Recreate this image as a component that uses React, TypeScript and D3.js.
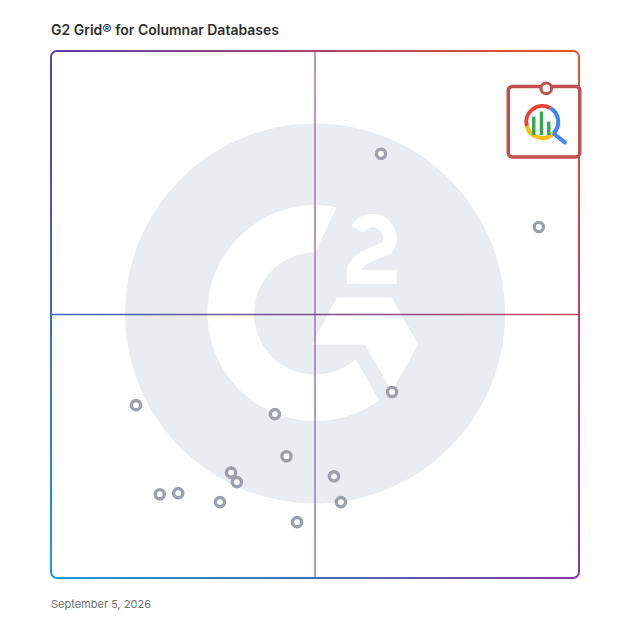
import React from "react";
import * as d3 from "d3";

// Satisfaction (x) and Market Presence (y) scores, 0-100
const satisfaction = [62.5, 92.4, 64.6, 16.1, 42.4, 44.6, 34.1, 35.2, 53.6, 20.6, 24.1, 32.0, 54.9, 46.6];
const marketPresence = [80.5, 66.6, 35.3, 32.8, 31.1, 23.1, 20.0, 18.2, 19.3, 15.9, 16.1, 14.4, 14.4, 10.6];
const highlightX = [93.8];
const highlightY = [92.9];
const title = "G2 Grid® for Columnar Databases";
const dateLabel = "September 5, 2026";

const W = 628;
const H = 628;

export default function App() {
  const x = d3.scaleLinear().domain([0, 100]).range([51, 579]);
  const y = d3.scaleLinear().domain([0, 100]).range([578, 51]);
  const x0 = x(0), x1 = x(100), y0 = y(100), y1 = y(0);
  const cx = x(50), cy = y(50);
  const r = 6;

  // Background G2 logo geometry (relative to center)
  const lc = { x: cx, y: cy - 1 };
  const oR = 108, iR = 61;
  const p = (dx: number, dy: number) => `${(lc.x + dx).toFixed(2)},${(lc.y + dy).toFixed(2)}`;
  const oTop = p(21.7, -106.3);
  const oBot = p(64.2, 86.8);
  const iBot = p(40.7, 45.5);
  const iTop = p(0, -61);
  const cPath = `M${oTop} A${oR},${oR} 0 1 0 ${oBot} L${iBot} A${iR},${iR} 0 1 1 ${iTop} Z`;
  const chevron = `M${p(21.7, -16)} L${p(76.7, -16)} L${p(103.3, 31)} L${p(76.7, 77.7)} L${p(50, 31)} L${p(-3.3, 31)} Z`;
  const tc = { x: lc.x + 57.5, y: lc.y - 75.5 };
  const tr = 17.5;
  const a0 = (210 * Math.PI) / 180;
  const a1 = (33 * Math.PI) / 180;
  const twoPath = `M${(tc.x + tr * Math.cos(a0)).toFixed(2)},${(tc.y + tr * Math.sin(a0)).toFixed(2)} A${tr},${tr} 0 1 1 ${(tc.x + tr * Math.cos(a1)).toFixed(2)},${(tc.y + tr * Math.sin(a1)).toFixed(2)} C ${tc.x + 6},${tc.y + 15} ${tc.x - 14},${tc.y + 18} ${tc.x - 19},${tc.y + 32} L${tc.x - 19},${tc.y + 39} L${tc.x + 24.2},${tc.y + 39}`;

  // Highlighted product marker
  const hx = x(highlightX[0]);
  const hy = y(highlightY[0]);
  const boxL = hx - 38, boxT = hy - 2, boxW = 71.5, boxH = 70.5;
  const mc = { x: hx - 4, y: hy + 33.5 };
  const mr = 16;
  const arc = (s: number, e: number) => {
    const sa = (s * Math.PI) / 180, ea = (e * Math.PI) / 180;
    const large = e - s > 180 ? 1 : 0;
    return `M${mc.x + mr * Math.cos(sa)},${mc.y + mr * Math.sin(sa)} A${mr},${mr} 0 ${large} 1 ${mc.x + mr * Math.cos(ea)},${mc.y + mr * Math.sin(ea)}`;
  };
  const barBase = mc.y + 13;
  const bars = [
    { dx: -8.5, h: 18.3 },
    { dx: -0.8, h: 23.3 },
    { dx: 6.5, h: 13.3 },
  ];

  const TL = "#5a3fa8", TR = "#f0502c", BL = "#1c9ad7", BR = "#7f3a9e";

  return (
    <svg width={W} height={H} style={{ position: "absolute", left: 0, top: 0, background: "#fff" }}
      fontFamily="Inter, 'Noto Sans', sans-serif">
      <defs>
        <linearGradient id="gTop" gradientUnits="userSpaceOnUse" x1={x0} y1={0} x2={x1} y2={0}>
          <stop offset="0" stopColor={TL} /><stop offset="1" stopColor={TR} />
        </linearGradient>
        <linearGradient id="gBot" gradientUnits="userSpaceOnUse" x1={x0} y1={0} x2={x1} y2={0}>
          <stop offset="0" stopColor={BL} /><stop offset="1" stopColor={BR} />
        </linearGradient>
        <linearGradient id="gLeft" gradientUnits="userSpaceOnUse" x1={0} y1={y0} x2={0} y2={y1}>
          <stop offset="0" stopColor={TL} /><stop offset="1" stopColor={BL} />
        </linearGradient>
        <linearGradient id="gRight" gradientUnits="userSpaceOnUse" x1={0} y1={y0} x2={0} y2={y1}>
          <stop offset="0" stopColor={TR} /><stop offset="1" stopColor={BR} />
        </linearGradient>
        <linearGradient id="gV" gradientUnits="userSpaceOnUse" x1={0} y1={y0} x2={0} y2={y1}>
          <stop offset="0" stopColor="#b0709e" /><stop offset="1" stopColor="#8a7cc6" />
        </linearGradient>
        <linearGradient id="gH" gradientUnits="userSpaceOnUse" x1={x0} y1={0} x2={x1} y2={0}>
          <stop offset="0" stopColor="#3d64b8" /><stop offset="0.5" stopColor="#7a4e8c" /><stop offset="1" stopColor="#c84a5e" />
        </linearGradient>
      </defs>

      <text x={51} y={35} fontSize={14} fontWeight={600} fill="#2f2f2f">{title}</text>

      {/* background logo */}
      <circle cx={lc.x} cy={lc.y} r={190} fill="#e9ecf0" />
      <path d={cPath} fill="#fff" />
      <path d={chevron} fill="#fff" />
      <path d={twoPath} fill="none" stroke="#fff" strokeWidth={13.5} strokeLinejoin="miter" />

      {/* quadrant lines */}
      <line x1={cx} x2={cx} y1={y0} y2={y1} stroke="url(#gV)" strokeWidth={1.5} />
      <line x1={x0} x2={x1} y1={cy} y2={cy} stroke="url(#gH)" strokeWidth={1.5} />

      {/* frame */}
      <g fill="none" strokeWidth={2}>
        <path d={`M${x0},${y0 + r} A${r},${r} 0 0 1 ${x0 + r},${y0} L${x1 - r},${y0} A${r},${r} 0 0 1 ${x1},${y0 + r}`} stroke="url(#gTop)" />
        <path d={`M${x1},${y0 + r} L${x1},${y1 - r}`} stroke="url(#gRight)" />
        <path d={`M${x1},${y1 - r} A${r},${r} 0 0 1 ${x1 - r},${y1} L${x0 + r},${y1} A${r},${r} 0 0 1 ${x0},${y1 - r}`} stroke="url(#gBot)" />
        <path d={`M${x0},${y1 - r} L${x0},${y0 + r}`} stroke="url(#gLeft)" />
      </g>

      {/* products */}
      {satisfaction.map((s, i) => (
        <circle key={i} cx={x(s)} cy={y(marketPresence[i])} r={4.6} fill="#fff" stroke="#9ba0aa" strokeWidth={3.4} />
      ))}

      {/* highlighted product */}
      <rect x={boxL} y={boxT} width={boxW} height={boxH} rx={4} fill="#fff" stroke="#c0504f" strokeWidth={3.5} />
      <circle cx={hx} cy={hy} r={5.3} fill="#fff" stroke="#c0504f" strokeWidth={3} />
      <g fill="none" strokeWidth={4}>
        <path d={arc(-60, 45)} stroke="#4285f4" />
        <path d={arc(45, 165)} stroke="#fbbc04" />
        <path d={arc(165, 300)} stroke="#ea4335" />
        <line x1={mc.x + 17 * Math.cos(Math.PI / 4)} y1={mc.y + 17 * Math.sin(Math.PI / 4)} x2={mc.x + 22.5} y2={mc.y + 20.5} stroke="#4285f4" strokeLinecap="round" />
      </g>
      {bars.map((b, i) => (
        <rect key={i} x={mc.x + b.dx - 1.7} y={barBase - b.h} width={3.4} height={b.h} fill="#34a853" />
      ))}

      <text x={51} y={607.5} fontSize={11} fill="#707070">{dateLabel}</text>
    </svg>
  );
}
